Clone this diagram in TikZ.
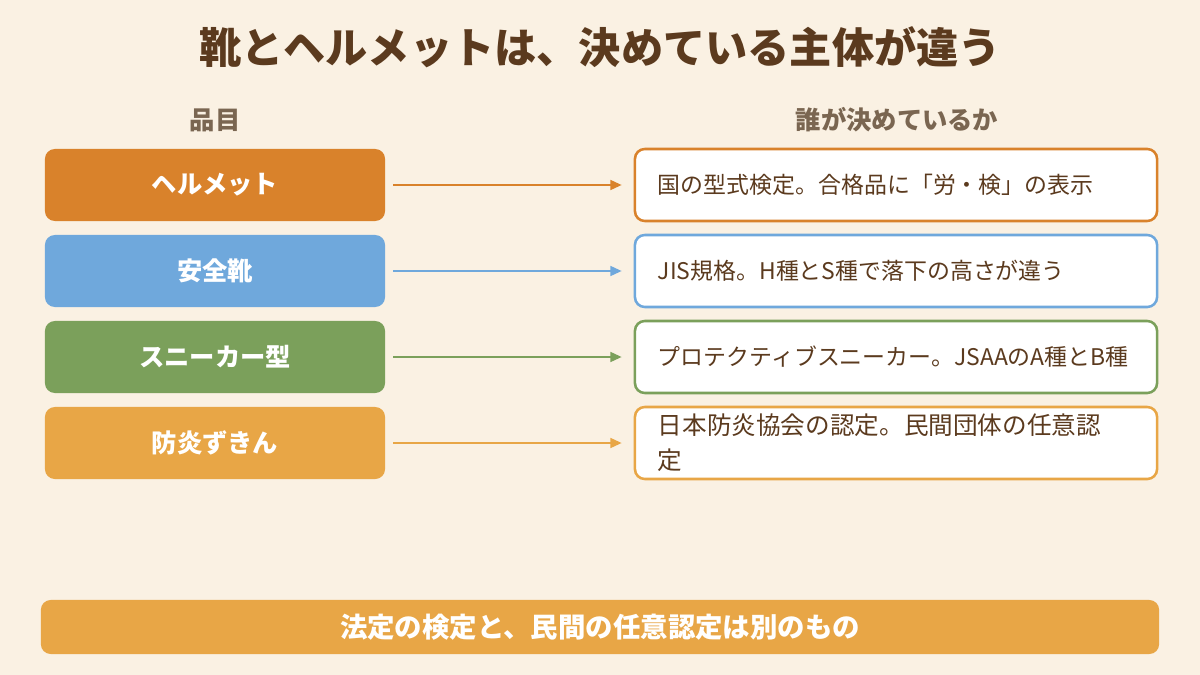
\documentclass[tikz,border=0pt]{standalone}
\usepackage{fontspec}
\setmainfont{Noto Sans CJK JP}
\usetikzlibrary{arrows.meta, positioning}
\definecolor{grund}{HTML}{FAF1E3}
\definecolor{braun}{HTML}{5B3A1E}
\definecolor{grau}{HTML}{7A6651}
\definecolor{orange}{HTML}{D9822B}
\definecolor{blau}{HTML}{6FA8DC}
\definecolor{gruen}{HTML}{7BA05B}
\definecolor{gelb}{HTML}{E8A646}

\begin{document}
\begin{tikzpicture}[x=0.025cm, y=-0.025cm,
    item/.style={rounded corners=7pt, minimum width=8.5cm, minimum height=1.8cm,
      text=white, font=\fontsize{18}{22}\selectfont\bfseries},
    who/.style={draw=#1, fill=white, line width=1.8pt, rounded corners=7pt,
      minimum width=13.05cm, minimum height=1.8cm, inner xsep=0.575cm,
      text width=11.9cm, align=left, text=braun,
      font=\fontsize{16.3}{25}\selectfont},
    pfeil/.style={draw=#1, line width=1.4pt, -{Triangle[length=8pt,width=7pt]},
      shorten <=0.2cm, shorten >=0.3cm}]
      \fill[grund] (0,0) rectangle (1200,675);
      \useasboundingbox (0,0) rectangle (1200,675);

      % Titel
      \node[text=braun, font=\fontsize{30}{36}\selectfont\bfseries] (titel) at (600,47)
        {靴とヘルメットは、決めている主体が違う};
      \node[text=grau, font=\fontsize{18}{22}\selectfont\bfseries] (kopfl) at (215,120) {品目};
      \node[text=grau, font=\fontsize{18}{22}\selectfont\bfseries] (kopfr) at (897,120) {誰が決めているか};

      % Links
      \node[item, fill=orange] (helm)  at (215,185) {ヘルメット};
      \node[item, fill=blau]   (schuh) at (215,271) {安全靴};
      \node[item, fill=gruen]  (sneak) at (215,357) {スニーカー型};
      \node[item, fill=gelb]   (haube) at (215,443) {防炎ずきん};

      % Rechts
      \node[who=orange] (helmwer)  at (896,185) {国の型式検定。合格品に「労・検」の表示};
      \node[who=blau]   (schuhwer) at (896,271) {JIS規格。H種とS種で落下の高さが違う};
      \node[who=gruen]  (sneakwer) at (896,357) {プロテクティブスニーカー。JSAAのA種とB種};
      \node[who=gelb, font=\fontsize{17.5}{25}\selectfont] (haubewer) at (896,443)
        {日本防炎協会の認定。民間団体の任意認\\定};

      % Pfeile
      \draw[pfeil=orange] (helm.east)  -- (helmwer.west);
      \draw[pfeil=blau]   (schuh.east) -- (schuhwer.west);
      \draw[pfeil=gruen]  (sneak.east) -- (sneakwer.west);
      \draw[pfeil=gelb]   (haube.east) -- (haubewer.west);

      % Fazit
      \node[fill=gelb, rounded corners=7pt, minimum width=27.95cm, minimum height=1.35cm,
        text=white, font=\fontsize{19.5}{23}\selectfont\bfseries] (fazit) at (600,627)
        {法定の検定と、民間の任意認定は別のもの};
    \end{tikzpicture}
\end{document}
